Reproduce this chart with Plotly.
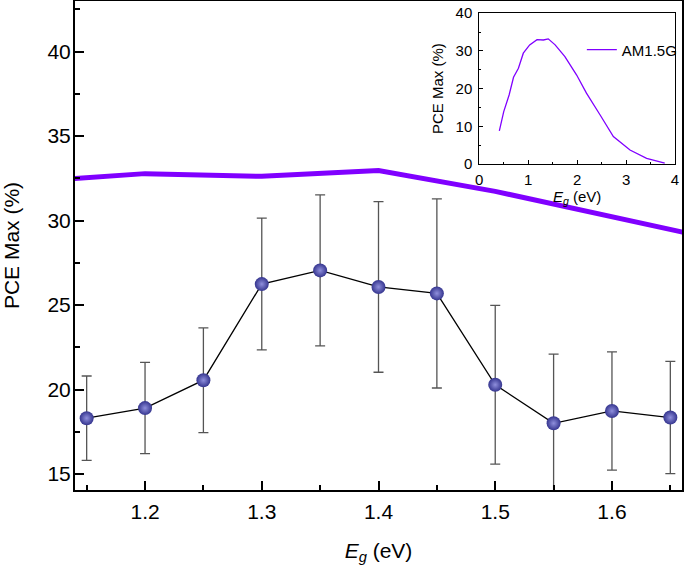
import plotly.graph_objects as go

# Main measured data
eg = [1.15, 1.20, 1.25, 1.30, 1.35, 1.40, 1.45, 1.50, 1.55, 1.60, 1.65]
pce = [18.3, 18.9, 20.55, 26.24, 27.05, 26.07, 25.69, 20.28, 18.0, 18.73, 18.34]
pce_err = [2.5, 2.7, 3.1, 3.9, 4.47, 5.05, 5.6, 4.7, 4.1, 3.5, 3.32]

# AM1.5G limit sampled on the main axis
sq_eg = [1.1, 1.2, 1.3, 1.4, 1.5, 1.6, 1.7]
sq_pce = [32.3, 32.78, 32.62, 32.96, 31.73, 30.17, 28.72]

# Inset: full AM1.5G curve
in_eg = [0.41, 0.50, 0.61, 0.70, 0.80, 0.90, 1.03, 1.18, 1.31, 1.41, 1.55,
         1.75, 1.99, 2.19, 2.47, 2.74, 3.08, 3.42, 3.79]
in_pce = [8.8, 13.9, 18.3, 23.0, 25.4, 29.4, 31.6, 33.0, 32.9, 33.2, 31.6,
          28.5, 23.6, 18.8, 13.0, 7.3, 3.7, 1.5, 0.2]

main_xticks = [1.2, 1.3, 1.4, 1.5, 1.6]
main_yticks = [15, 20, 25, 30, 35, 40]
inset_xticks = [0, 1, 2, 3, 4]
inset_yticks = [0, 10, 20, 30, 40]

FONT = "Liberation Sans, Arial, sans-serif"
PURPLE = "#8000ff"

fig = go.Figure()

fig.add_trace(go.Scatter(
    x=sq_eg, y=sq_pce, mode="lines",
    line=dict(color=PURPLE, width=5), showlegend=False,
    xaxis="x", yaxis="y"))

fig.add_trace(go.Scatter(
    x=eg, y=pce, mode="lines+markers",
    line=dict(color="black", width=1.3),
    marker=dict(size=14, color="#35358f",
                gradient=dict(type="radial", color="#8f8fdc"),
                line=dict(width=0)),
    error_y=dict(type="data", array=pce_err, visible=True,
                 color="#555555", thickness=1.3, width=5),
    showlegend=False, xaxis="x", yaxis="y"))

fig.add_trace(go.Scatter(
    x=in_eg, y=in_pce, mode="lines", name="AM1.5G",
    line=dict(color=PURPLE, width=1.3), showlegend=True,
    xaxis="x2", yaxis="y2"))

fig.update_layout(
    width=685, height=568,
    margin=dict(l=75, r=3, t=1, b=78, autoexpand=False),
    paper_bgcolor="white", plot_bgcolor="white",
    font=dict(family=FONT, color="black", size=21),
    xaxis=dict(
        range=[1.14, 1.66], tickmode="array", tickvals=main_xticks,
        ticktext=[f"{v:.1f}" for v in main_xticks],
        showgrid=False, zeroline=False, automargin=False,
        showline=True, linecolor="black", linewidth=2, mirror=True,
        ticks="inside", ticklen=9, tickwidth=2, tickcolor="black",
        minor=dict(dtick=0.05, tick0=1.15, ticks="inside", ticklen=5,
                   tickwidth=2, tickcolor="black", showgrid=False),
        tickfont=dict(size=21), ticklabelstandoff=2,
        title=dict(text="<i>E<sub>g</sub></i> (eV)", font=dict(size=21),
                   standoff=21),
    ),
    yaxis=dict(
        range=[14.05, 43], tickmode="array", tickvals=main_yticks,
        showgrid=False, zeroline=False, automargin=False,
        showline=True, linecolor="black", linewidth=2, mirror=True,
        ticks="inside", ticklen=9, tickwidth=2, tickcolor="black",
        minor=dict(dtick=2.5, tick0=15, ticks="inside", ticklen=5,
                   tickwidth=2, tickcolor="black", showgrid=False),
        tickfont=dict(size=21), ticklabelstandoff=-2,
        title=dict(text="PCE Max (%)", font=dict(size=21), standoff=30),
    ),
    xaxis2=dict(
        domain=[0.666, 0.9885], anchor="y2",
        range=[0, 4.0], tickmode="array", tickvals=inset_xticks,
        showgrid=False, zeroline=False, automargin=False,
        showline=True, linecolor="black", linewidth=1, mirror=True,
        ticks="inside", ticklen=4, tickwidth=1, tickcolor="black",
        minor=dict(dtick=0.5, tick0=0, ticks="inside", ticklen=2, tickwidth=1,
                   tickcolor="black", showgrid=False),
        tickfont=dict(size=15), ticklabelstandoff=2,
        title=dict(text="<i>E<sub>g</sub></i> (eV)", font=dict(size=15),
                   standoff=1),
    ),
    yaxis2=dict(
        domain=[0.6667, 0.975], anchor="x2",
        range=[0, 40], tickmode="array", tickvals=inset_yticks,
        showgrid=False, zeroline=False, automargin=False,
        showline=True, linecolor="black", linewidth=1, mirror=True,
        ticks="inside", ticklen=4, tickwidth=1, tickcolor="black",
        minor=dict(dtick=5, tick0=0, ticks="inside", ticklen=2, tickwidth=1,
                   tickcolor="black", showgrid=False),
        tickfont=dict(size=15), ticklabelstandoff=3,
        title=dict(text="PCE Max (%)", font=dict(size=15), standoff=8),
    ),
    legend=dict(x=0.835, y=0.90, xanchor="left", yanchor="middle",
                bgcolor="rgba(0,0,0,0)", font=dict(size=15),
                itemwidth=30),
)

fig.write_html("out.html",
               config={"displayModeBar": False},
               post_script="document.body.style.margin='0';"
                           "document.body.style.overflow='hidden';")
